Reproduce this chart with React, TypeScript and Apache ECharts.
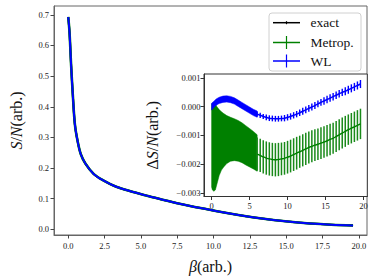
import React, { useEffect, useRef } from 'react';
import * as echarts from 'echarts';

// ---------- data ----------
const mainBeta = [0, 0.09, 0.2, 0.33, 0.46, 0.64, 0.86, 1.19, 1.75, 2.41, 3.3, 4.4, 5.5, 7.5, 10.15, 12.8, 15.45, 18.1, 19.6];
const mainS = [0.693, 0.641, 0.534, 0.427, 0.342, 0.289, 0.246, 0.214, 0.181, 0.16, 0.139, 0.123, 0.109, 0.085, 0.06, 0.039, 0.024, 0.015, 0.013];

const mainTicksX = [0, 2.5, 5, 7.5, 10, 12.5, 15, 17.5, 20];
const mainTicksY = [0, 0.1, 0.2, 0.3, 0.4, 0.5, 0.6, 0.7];
const insetTicksX = [0, 5, 10, 15, 20];
const insetTicksY = [-0.003, -0.002, -0.001, 0, 0.001];

// WL dense region (beta < 6)
const wlDenseBeta = [0, 0.3, 0.6, 1.0, 1.5, 2.0, 2.5, 3.0, 3.5, 4.0, 4.5, 5.0, 5.5, 6.0];
const wlDense = [0, 0.00008, 0.00016, 0.00022, 0.00026, 0.00027, 0.00025, 0.0002, 0.00012, 0.00004, -0.00004, -0.00012, -0.0002, -0.00026];
const wlDenseErr = [0.00012, 0.00011, 0.00011, 0.00011, 0.00011, 0.00011, 0.00011, 0.00011, 0.00011, 0.00011, 0.00011, 0.00011, 0.00011, 0.00011];

// sparse region
const sparseBeta = [6.0, 6.4, 6.8, 7.2, 7.6, 8.0, 8.4, 8.8, 9.2, 9.6, 10.0, 10.4, 10.8, 11.2, 11.6, 12.0, 12.4, 12.8, 13.2, 13.6, 14.0, 14.4, 14.8, 15.2, 15.6, 16.0, 16.4, 16.8, 17.2, 17.6, 18.0, 18.4, 18.8, 19.2, 19.6];
const wlSparse = [-0.00026, -0.0003, -0.00034, -0.00037, -0.0004, -0.00041, -0.00042, -0.00042, -0.00041, -0.0004, -0.00037, -0.00034, -0.0003, -0.00026, -0.00021, -0.00016, -0.00011, -0.00006, -0.00001, 0.00004, 0.0001, 0.00015, 0.0002, 0.00025, 0.0003, 0.00035, 0.0004, 0.00045, 0.0005, 0.00054, 0.00059, 0.00064, 0.00069, 0.00074, 0.00079];
const wlSparseErr = [0.00009, 0.00009, 0.00009, 0.0001, 0.0001, 0.0001, 0.0001, 0.0001, 0.0001, 0.00011, 0.00011, 0.00011, 0.00011, 0.00011, 0.00011, 0.00012, 0.00012, 0.00012, 0.00012, 0.00012, 0.00012, 0.00012, 0.00013, 0.00013, 0.00013, 0.00013, 0.00013, 0.00013, 0.00013, 0.00014, 0.00014, 0.00014, 0.00014, 0.00014, 0.00014];
const metSparse = [-0.00165, -0.0017, -0.00175, -0.00179, -0.00182, -0.00184, -0.00185, -0.00184, -0.00182, -0.0018, -0.00176, -0.00172, -0.00167, -0.00162, -0.00157, -0.00152, -0.00147, -0.00142, -0.00138, -0.00134, -0.00131, -0.00127, -0.00123, -0.00119, -0.00114, -0.0011, -0.00104, -0.00098, -0.00092, -0.00086, -0.0008, -0.00075, -0.0007, -0.00065, -0.0006];
const metSparseErr = [0.00058, 0.00058, 0.00058, 0.00058, 0.00058, 0.00058, 0.00058, 0.00058, 0.00057, 0.00057, 0.00057, 0.00057, 0.00057, 0.00057, 0.00056, 0.00056, 0.00056, 0.00056, 0.00056, 0.00055, 0.00055, 0.00055, 0.00055, 0.00055, 0.00055, 0.00054, 0.00054, 0.00054, 0.00054, 0.00054, 0.00053, 0.00053, 0.00053, 0.00053, 0.00053];

// Metropolis dense region (beta < 6), error band edges
const metDenseBeta = [0, 0.1, 0.3, 0.5, 0.7, 1.0, 1.3, 1.6, 2.0, 2.5, 3.0, 3.5, 4.0, 4.5, 5.0, 5.5, 6.0];
const metDenseUpper = [0.0001, 0.00012, 0.00012, 0.0001, 0.0, -0.0001, -0.00018, -0.00024, -0.00031, -0.00037, -0.00042, -0.00048, -0.00056, -0.00066, -0.00076, -0.00086, -0.00098];
const metDenseLower = [-0.0028, -0.0029, -0.00295, -0.0029, -0.0027, -0.0024, -0.00221, -0.0021, -0.00198, -0.0019, -0.00188, -0.0019, -0.00195, -0.00203, -0.0021, -0.00217, -0.00225];

const legendItems = ['exact', 'Metrop.', 'WL'];
const legendColors = ['#000000', '#008000', '#0000ff'];

const FONT = 'Liberation Serif, DejaVu Serif, serif';

function bandSeries(beta: number[], upper: number[], lower: number[], color: string, z: number) {
  return {
    type: 'custom',
    xAxisIndex: 1,
    yAxisIndex: 1,
    silent: true,
    z,
    data: beta.map((b, i) => [b, lower[i], upper[i]]),
    encode: { x: 0, y: [1, 2] },
    renderItem: (params: any, api: any) => {
      if (params.dataIndex !== 0) return null;
      const pts: number[][] = [];
      for (let i = 0; i < beta.length; i++) pts.push(api.coord([beta[i], upper[i]]));
      for (let i = beta.length - 1; i >= 0; i--) pts.push(api.coord([beta[i], lower[i]]));
      return { type: 'polygon', shape: { points: pts }, style: { fill: color, stroke: color, lineWidth: 0.5 } };
    },
  };
}

function errorSeries(beta: number[], center: number[], err: number[], color: string, width: number, z: number) {
  return {
    type: 'custom',
    xAxisIndex: 1,
    yAxisIndex: 1,
    silent: true,
    z,
    data: beta.map((b, i) => [b, center[i] - err[i], center[i] + err[i]]),
    encode: { x: 0, y: [1, 2] },
    renderItem: (params: any, api: any) => {
      const p1 = api.coord([api.value(0), api.value(1)]);
      const p2 = api.coord([api.value(0), api.value(2)]);
      return { type: 'line', shape: { x1: p1[0], y1: p1[1], x2: p2[0], y2: p2[1] }, style: { stroke: color, lineWidth: width } };
    },
  };
}

function fmtMinus(v: number, d: number) {
  const s = Math.abs(v).toFixed(d);
  return v < -1e-12 ? '\u2212' + s : s;
}

export default function App() {
  const ref = useRef<HTMLDivElement>(null);
  useEffect(() => {
    if (!ref.current) return;
    const chart = echarts.init(ref.current, undefined, { renderer: 'svg' });
    const tickLabel = { fontFamily: FONT, fontSize: 8.5, color: '#1a1a1a' };
    const mainSeriesData = mainBeta.map((b, i) => [b, mainS[i]]);
    const legendGraphics: any[] = [
      { type: 'rect', shape: { x: 269, y: 13, width: 92, height: 58, r: 3 }, style: { fill: '#fff', stroke: '#d0d0d0', lineWidth: 1 }, z: 10 },
    ];
    const ly = [22.7, 42.5, 61];
    const vh = [1.5, 6.5, 6.5];
    legendItems.forEach((name, i) => {
      legendGraphics.push({ type: 'line', shape: { x1: 273, y1: ly[i], x2: 300, y2: ly[i] }, style: { stroke: legendColors[i], lineWidth: 1.5 }, z: 11 });
      legendGraphics.push({ type: 'line', shape: { x1: 286.5, y1: ly[i] - vh[i], x2: 286.5, y2: ly[i] + vh[i] }, style: { stroke: legendColors[i], lineWidth: 1.2 }, z: 11 });
      legendGraphics.push({ type: 'text', x: 310.5, y: ly[i], style: { text: name, fontFamily: FONT, fontSize: 13.5, fill: '#111', verticalAlign: 'middle', textAlign: 'left' }, z: 11 });
    });
    const nameRich = {
      i: { fontFamily: FONT, fontSize: 16, fontStyle: 'italic', color: '#111' },
      n: { fontFamily: FONT, fontSize: 16, color: '#111' },
    };

    chart.setOption({
      animation: false,
      backgroundColor: '#fff',
      grid: [
        { left: 42, right: 7, top: 6, bottom: 40, show: true, borderColor: '#666', borderWidth: 1, backgroundColor: '#fff' },
        { left: 204, right: 6.7, top: 74, bottom: 82.5, show: true, borderColor: '#333', borderWidth: 1, backgroundColor: '#fff' },
      ],
      xAxis: [
        {
          type: 'value', gridIndex: 0, min: -0.98, max: 20.56,
          axisLine: { show: true, onZero: false, lineStyle: { color: '#666' } },
          axisTick: { show: true, length: 3.5, lineStyle: { color: '#444' }, customValues: mainTicksX },
          axisLabel: { ...tickLabel, margin: 6, customValues: mainTicksX, formatter: (v: number) => v.toFixed(1) },
          splitLine: { show: false },
          name: '{i|\u03b2}{n|(arb.)}', nameLocation: 'middle', nameGap: 23,
          nameTextStyle: { rich: nameRich },
        },
        {
          type: 'value', gridIndex: 1, min: -1.0, max: 20.5,
          axisLine: { show: true, onZero: false, lineStyle: { color: '#333' } },
          axisTick: { show: true, length: 3.5, lineStyle: { color: '#333' }, customValues: insetTicksX },
          axisLabel: { ...tickLabel, margin: 5, customValues: insetTicksX, formatter: (v: number) => String(v) },
          splitLine: { show: false },
        },
      ],
      yAxis: [
        {
          type: 'value', gridIndex: 0, min: -0.0183, max: 0.7288,
          axisLine: { show: true, onZero: false, lineStyle: { color: '#666' } },
          axisTick: { show: true, length: 3.5, lineStyle: { color: '#444' }, customValues: mainTicksY },
          axisLabel: { ...tickLabel, margin: 5, customValues: mainTicksY, formatter: (v: number) => v.toFixed(1) },
          splitLine: { show: false },
          name: '{i|S}{n|/}{i|N}{n|(arb.)}', nameLocation: 'middle', nameGap: 30,
          nameTextStyle: { rich: nameRich },
        },
        {
          type: 'value', gridIndex: 1, min: -0.00313, max: 0.00114,
          axisLine: { show: true, onZero: false, lineStyle: { color: '#333' } },
          axisTick: { show: true, length: 3.5, lineStyle: { color: '#333' }, customValues: insetTicksY },
          axisLabel: { ...tickLabel, margin: 3.5, customValues: insetTicksY, formatter: (v: number) => fmtMinus(v, 3) },
          splitLine: { show: false },
          name: '{n|\u0394}{i|S}{n|/}{i|N}{n|(arb.)}', nameLocation: 'middle', nameGap: 44,
          nameTextStyle: { rich: nameRich },
        },
      ],
      graphic: legendGraphics,
      series: [
        { type: 'line', xAxisIndex: 0, yAxisIndex: 0, data: mainSeriesData, smooth: 0.35, showSymbol: false, lineStyle: { color: '#000', width: 2 } },
        { type: 'line', xAxisIndex: 0, yAxisIndex: 0, data: mainSeriesData, smooth: 0.35, showSymbol: false, lineStyle: { color: '#008000', width: 2.6 } },
        { type: 'line', xAxisIndex: 0, yAxisIndex: 0, data: mainSeriesData, smooth: 0.35, showSymbol: false, lineStyle: { color: '#0000ff', width: 2 } },
        // inset: Metropolis
        bandSeries(metDenseBeta, metDenseUpper, metDenseLower, '#008000', 5),
        errorSeries(sparseBeta, metSparse, metSparseErr, '#1a8a1a', 1.5, 5),
        { type: 'line', xAxisIndex: 1, yAxisIndex: 1, data: sparseBeta.map((b, i) => [b, metSparse[i]]), smooth: true, showSymbol: false, lineStyle: { color: '#008000', width: 1.4 }, z: 6 },
        // inset: WL
        bandSeries(wlDenseBeta, wlDense.map((v, i) => v + wlDenseErr[i]), wlDense.map((v, i) => v - wlDenseErr[i]), '#0000ff', 7),
        errorSeries(sparseBeta, wlSparse, wlSparseErr, '#0000ff', 1.4, 7),
        { type: 'line', xAxisIndex: 1, yAxisIndex: 1, data: sparseBeta.map((b, i) => [b, wlSparse[i]]), smooth: true, showSymbol: false, lineStyle: { color: '#0000ff', width: 1.5 }, z: 8 },
      ],
    });
    return () => chart.dispose();
  }, []);
  return <div ref={ref} style={{ position: 'fixed', left: 0, top: 0, width: 374, height: 279 }} />;
}
